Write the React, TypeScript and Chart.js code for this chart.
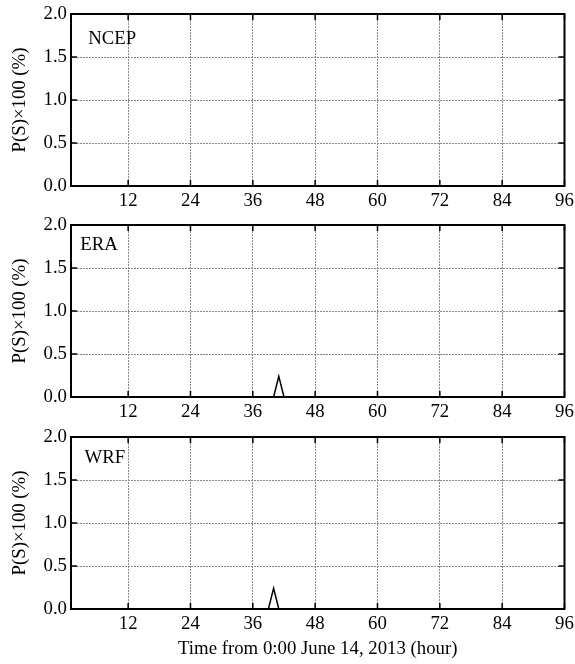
import React, { useEffect, useRef } from 'react';
import { Chart, registerables } from 'chart.js';

Chart.register(...registerables);

// ---- data ----
const xTicks = [12, 24, 36, 48, 60, 72, 84, 96];
const yTicks = [0, 0.5, 1.0, 1.5, 2.0];
const xMin = 1;
const xMax = 96;
const yMin = 0;
const yMax = 2;
const panelNames = ['NCEP', 'ERA', 'WRF'];
const ncepHours = [1, 96];
const ncepValues = [0, 0];
const eraHours = [1, 40, 41, 42, 96];
const eraValues = [0, 0, 0.24, 0, 0];
const wrfHours = [1, 39, 40, 41, 96];
const wrfValues = [0, 0, 0.24, 0, 0];
const yTitle = 'P(S)×100 (%)';
const xTitle = 'Time from 0:00 June 14, 2013 (hour)';

const FONT = 'Liberation Serif';
const FSIZE = 18.8;

const framePlugin = {
  id: 'frame',
  afterDatasetsDraw(chart: any, _args: any, opts: any) {
    const { ctx, chartArea: a, scales } = chart;
    const xs = scales.x;
    const ys = scales.y;
    ctx.save();
    ctx.strokeStyle = '#000';
    ctx.lineWidth = 1.5;
    ctx.beginPath();
    const tl = 6;
    xTicks.forEach((v) => {
      const px = xs.getPixelForValue(v);
      ctx.moveTo(px, a.bottom);
      ctx.lineTo(px, a.bottom - tl);
      ctx.moveTo(px, a.top);
      ctx.lineTo(px, a.top + tl);
    });
    yTicks.forEach((v) => {
      const py = ys.getPixelForValue(v);
      ctx.moveTo(a.left, py);
      ctx.lineTo(a.left + tl, py);
      ctx.moveTo(a.right, py);
      ctx.lineTo(a.right - tl, py);
    });
    ctx.stroke();
    ctx.lineWidth = 2;
    ctx.strokeRect(a.left, a.top, a.right - a.left, a.bottom - a.top);
    if (opts && opts.label) {
      ctx.fillStyle = '#000';
      ctx.font = `${FSIZE}px "${FONT}"`;
      ctx.textAlign = 'left';
      ctx.textBaseline = 'middle';
      ctx.fillText(opts.label, xs.getPixelForValue(opts.lx), ys.getPixelForValue(opts.ly));
    }
    ctx.restore();
  },
};

type PanelProps = {
  name: string;
  hours: number[];
  values: number[];
  top: number;
  height: number;
  xHeight: number;
  showXTitle: boolean;
  lx: number;
  ly: number;
};

function Panel(p: PanelProps) {
  const ref = useRef<HTMLCanvasElement | null>(null);
  useEffect(() => {
    if (!ref.current) return;
    const font = { family: FONT, size: FSIZE };
    const chart = new Chart(ref.current, {
      type: 'line',
      data: {
        datasets: [
          {
            data: p.hours.map((h, i) => ({ x: h, y: p.values[i] })),
            borderColor: '#000',
            borderWidth: 1.5,
            pointRadius: 0,
            fill: false,
            tension: 0,
          },
        ],
      },
      plugins: [framePlugin],
      options: {
        animation: false,
        responsive: false,
        maintainAspectRatio: false,
        layout: { padding: { top: 14, right: 10.5, left: 0, bottom: 0 } },
        plugins: {
          legend: { display: false },
          tooltip: { enabled: false },
          // @ts-ignore
          frame: { label: p.name, lx: p.lx, ly: p.ly },
        },
        scales: {
          x: {
            type: 'linear',
            min: xMin,
            max: xMax,
            afterBuildTicks: (s: any) => {
              s.ticks = xTicks.map((v) => ({ value: v }));
            },
            afterFit: (s: any) => {
              s.height = p.xHeight;
              s.paddingLeft = 0;
              s.paddingRight = 0;
            },
            grid: { color: '#888', lineWidth: 1, drawTicks: false },
            border: { display: false, dash: [2, 1] },
            ticks: {
              padding: 4,
              font,
              color: '#000',
              autoSkip: false,
              maxRotation: 0,
              callback: (v: any) => String(v),
            },
            title: {
              display: p.showXTitle,
              text: xTitle,
              font,
              color: '#000',
              padding: { top: 0, bottom: 4 },
            },
          },
          y: {
            type: 'linear',
            min: yMin,
            max: yMax,
            afterBuildTicks: (s: any) => {
              s.ticks = yTicks.map((v) => ({ value: v }));
            },
            afterFit: (s: any) => {
              s.width = 71;
              s.paddingTop = 0;
              s.paddingBottom = 0;
            },
            grid: { color: '#888', lineWidth: 1, drawTicks: false },
            border: { display: false, dash: [2, 1] },
            ticks: {
              padding: 4,
              font,
              color: '#000',
              autoSkip: false,
              callback: (v: any) => Number(v).toFixed(1),
            },
            title: {
              display: true,
              text: yTitle,
              font,
              color: '#000',
              padding: { top: 9, bottom: 0 },
            },
          },
        },
      } as any,
    });
    return () => chart.destroy();
  }, []);
  return (
    <canvas
      ref={ref}
      width={575}
      height={p.height}
      style={{ position: 'absolute', left: 0, top: p.top, width: 575, height: p.height }}
    />
  );
}

export default function App() {
  return (
    <div style={{ position: 'fixed', left: 0, top: 0, width: 575, height: 664, background: '#fff' }}>
      <Panel name={panelNames[0]} hours={ncepHours} values={ncepValues} top={0} height={212} xHeight={26} showXTitle={false} lx={4.3} ly={1.71} />
      <Panel name={panelNames[1]} hours={eraHours} values={eraValues} top={211} height={212} xHeight={26} showXTitle={false} lx={2.8} ly={1.77} />
      <Panel name={panelNames[2]} hours={wrfHours} values={wrfValues} top={423} height={241} xHeight={55} showXTitle={true} lx={3.6} ly={1.75} />
    </div>
  );
}
